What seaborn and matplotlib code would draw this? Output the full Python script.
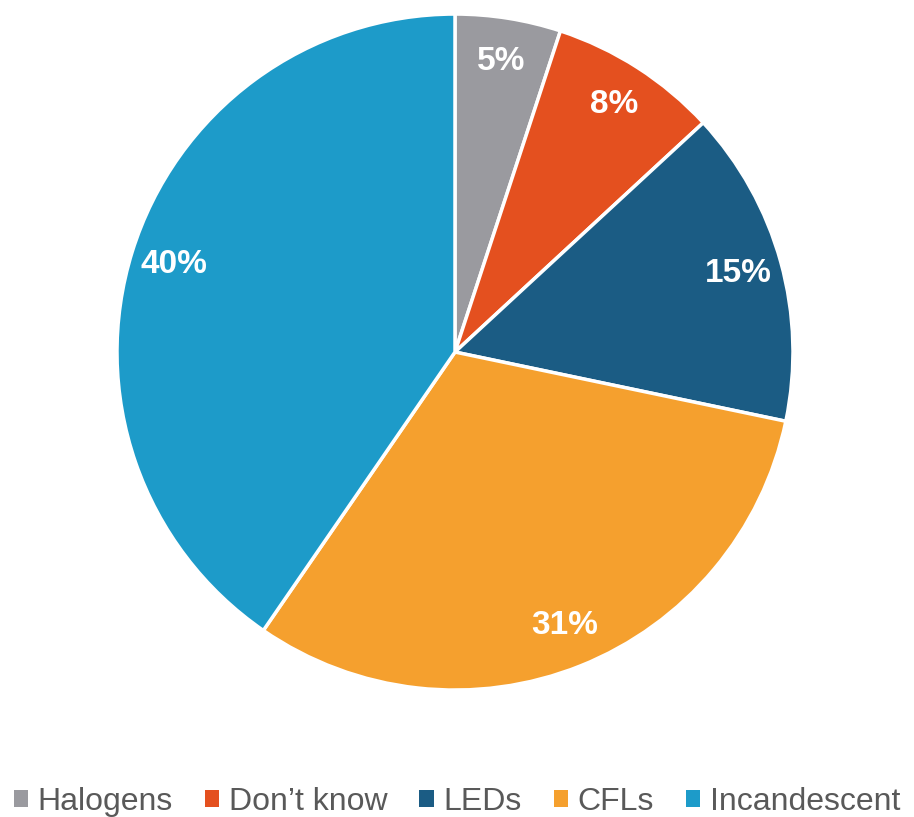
import matplotlib
matplotlib.use("Agg")
import matplotlib.pyplot as plt
from matplotlib.patches import Patch
import numpy as np
import seaborn as sns

# Share of lighting types
categories = ["Halogens", "Don\u2019t know", "LEDs", "CFLs", "Incandescent"]
shares = [5, 8, 15, 31, 40]
labels = ["5%", "8%", "15%", "31%", "40%"]
colors = ["#9a9a9f", "#e4501f", "#1b5c84", "#f5a02e", "#1d9bc9"]

sns.set_theme(style="white")
plt.rcParams["font.family"] = ["Liberation Sans", "DejaVu Sans"]

fig = plt.figure(figsize=(9.14, 8.17), dpi=100)
ax = fig.add_axes([0.128, 0.1554, 0.7396, 0.8274])
palette = sns.color_palette(colors)

wedges, _ = ax.pie(
    shares,
    colors=palette,
    startangle=90,
    counterclock=False,
    radius=1.0,
    wedgeprops=dict(edgecolor="white", linewidth=2.5),
)

# value labels placed inside each wedge
for w, lab in zip(wedges, labels):
    ang = np.deg2rad((w.theta1 + w.theta2) / 2)
    r = 0.87
    ax.text(r * np.cos(ang), r * np.sin(ang), lab, ha="center", va="center",
            color="white", fontsize=24, fontweight="bold")

ax.set_xlim(-1, 1)
ax.set_ylim(-1, 1)
ax.set_aspect("equal")
ax.axis("off")

handles = [Patch(facecolor=c, edgecolor="none") for c in palette]
leg = fig.legend(
    handles, categories,
    loc="lower center", bbox_to_anchor=(0.5, -0.035),
    ncol=5, frameon=False, fontsize=23,
    handlelength=0.45, handleheight=0.45, handletextpad=0.3,
    columnspacing=1.0,
)
for t in leg.get_texts():
    t.set_color("#595959")

fig.savefig("out.png", dpi=100, facecolor="white")
